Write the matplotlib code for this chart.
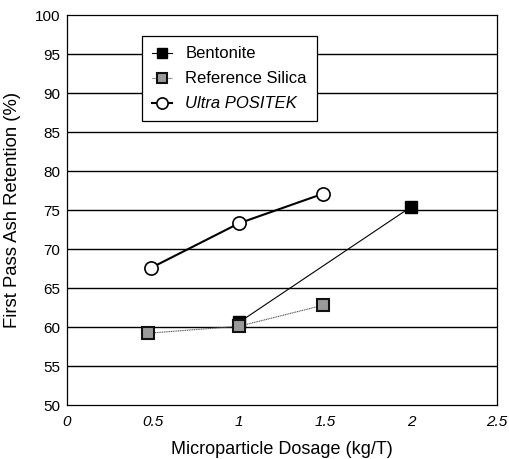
import matplotlib.pyplot as plt

plt.rcParams['font.family'] = ['Liberation Sans', 'DejaVu Sans']

# dosage (kg/T) and first pass ash retention (%)
bent_x = [1.0, 2.0]
bent_y = [60.6, 75.4]
silica_x = [0.47, 1.0, 1.49]
silica_y = [59.2, 60.1, 62.8]
ultra_x = [0.49, 1.0, 1.49]
ultra_y = [67.6, 73.3, 77.1]

xticks = [0, 0.5, 1, 1.5, 2, 2.5]
xlabels = ['0', '0.5', '1', '1.5', '2', '2.5']
yticks = [50, 55, 60, 65, 70, 75, 80, 85, 90, 95, 100]

fig = plt.figure(figsize=(5.09, 4.59), dpi=100)
ax = fig.add_axes([0.1316, 0.1176, 0.845, 0.8497])

for y in yticks[1:-1]:
    ax.axhline(y, color='black', lw=1.0, zorder=1)

ax.plot(bent_x, bent_y, color='black', lw=0.8, marker='s', ms=8.5,
        mfc='black', mec='black', label='Bentonite', zorder=3)
ax.plot(silica_x, silica_y, color='#555555', lw=0.8, ls=(0, (1, 0.6)),
        marker='s', ms=8, mfc='#9a9a9a', mec='#111111', mew=1.5,
        label='Reference Silica', zorder=4)
ax.plot(ultra_x, ultra_y, color='black', lw=1.5, marker='o', ms=9.5,
        mfc='white', mec='black', mew=1.2, label='Ultra POSITEK', zorder=3)

ax.set_xlim(0, 2.5)
ax.set_ylim(50, 100)
ax.set_xticks(xticks)
ax.set_xticklabels(xlabels, fontstyle='italic')
ax.set_yticks(yticks)
ax.tick_params(length=0, labelsize=11, pad=5)
ax.tick_params(axis='x', pad=7)
for s in ax.spines.values():
    s.set_linewidth(0.9)

ax.set_xlabel('Microparticle Dosage (kg/T)', fontsize=13, labelpad=9)
ax.set_ylabel('First Pass Ash Retention (%)', fontsize=13.3, labelpad=10)

leg = ax.legend(loc='upper left', bbox_to_anchor=(0.174, 0.945),
                frameon=True, fancybox=False, edgecolor='black',
                framealpha=1, fontsize=12, handlelength=1.2,
                handletextpad=0.8, borderpad=0.6, labelspacing=0.6,
                borderaxespad=0, markerscale=0.85)
leg.get_frame().set_linewidth(0.9)
leg.get_texts()[2].set_fontstyle('italic')

fig.savefig('out.png', dpi=100)
